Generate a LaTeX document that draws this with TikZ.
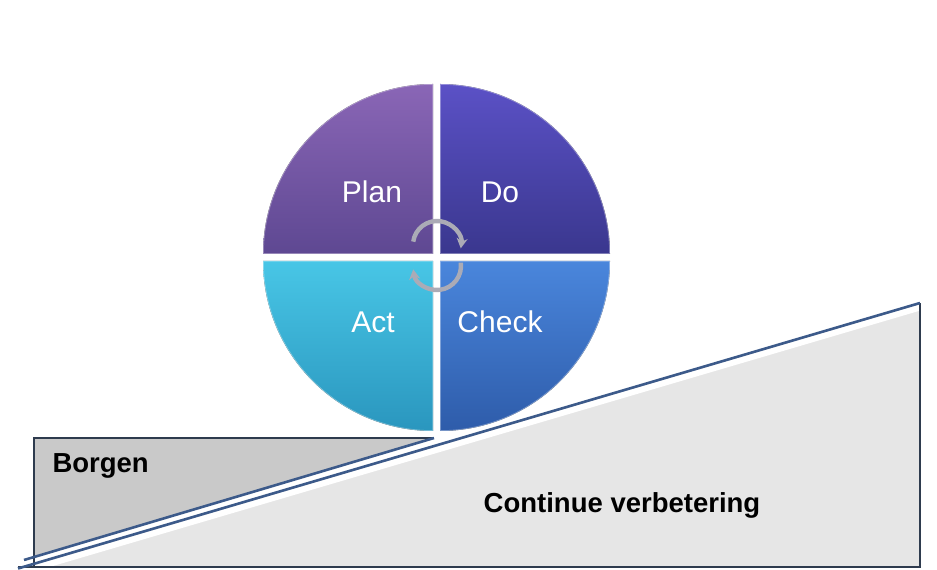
\documentclass[tikz,border=0pt]{standalone}
\usepackage{fontspec}
\setmainfont{Liberation Sans}
\usetikzlibrary{arrows.meta,positioning}

\definecolor{planTop}{HTML}{8A66B6}
\definecolor{planBot}{HTML}{5E4892}
\definecolor{doTop}{HTML}{5B51C6}
\definecolor{doBot}{HTML}{3A378E}
\definecolor{actTop}{HTML}{48C6E6}
\definecolor{actBot}{HTML}{2A96BE}
\definecolor{checkTop}{HTML}{4A86DC}
\definecolor{checkBot}{HTML}{2E5CAA}
\definecolor{frame}{HTML}{2E3B4E}
\definecolor{slope}{HTML}{3C5A8A}
\definecolor{paleFill}{HTML}{E6E6E6}
\definecolor{darkFill}{HTML}{C9C9C9}
\definecolor{silver}{HTML}{ABABB6}

\begin{document}
\begin{tikzpicture}[
        x=1pt, y=1pt,
        quarter/.style={draw=white, draw opacity=0.35, line width=1.5pt},
        phase/.style={text=white, font=\fontsize{30}{30}\selectfont},
        boxtext/.style={text=black, font=\bfseries\fontsize{27.5}{28}\selectfont},
        turn/.style={draw=silver, line width=4.4pt, -{Stealth[length=10pt,width=11pt]}},
        edge/.style={draw=frame, line width=2pt},
        rim/.style={draw=slope, line width=2.6pt}
    ]
  \useasboundingbox (0,0) rectangle (937,570);

  % Base shapes
  \fill[paleFill] (20,2) -- (920,267) -- (920,3) -- cycle;
  \fill[darkFill] (34,132) -- (434,132) -- (34,14) -- cycle;
  \draw[white, line width=6pt] (22,-2) -- (920,262.5);
  \draw[edge] (34,3) -- (34,132) -- (434,132);
  \draw[edge] (18,3) -- (920,3) -- (920,267);
  \draw[rim] (18,1.5) -- (920,267);
  \draw[rim] (24,10) -- (434,132);

  % Quarters
  \filldraw[quarter, top color=planTop, bottom color=planBot]
    (433,316) -- ++(-170,0) arc[start angle=180, end angle=90, radius=170] -- cycle;
  \filldraw[quarter, top color=doTop, bottom color=doBot]
    (440,316) -- ++(0,170) arc[start angle=90, end angle=0, radius=170] -- cycle;
  \filldraw[quarter, top color=actTop, bottom color=actBot]
    (433,309) -- ++(0,-170) arc[start angle=270, end angle=180, radius=170] -- cycle;
  \filldraw[quarter, top color=checkTop, bottom color=checkBot]
    (440,309) -- ++(170,0) arc[start angle=0, end angle=-90, radius=170] -- cycle;

  % Cycle arrows
  \coordinate (upper) at (437,325);
  \coordinate (lower) at (437,304);
  \draw[turn] ([shift={(172:24)}]upper) arc[start angle=172, end angle=-8, radius=24];
  \draw[turn] ([shift={(8:24)}]lower) arc[start angle=8, end angle=-172, radius=24];

  % Nodes
  \node[phase] (plan) at (372,378) {Plan};
  \node[phase] (do) at (500,378) {Do};
  \node[phase] (act) at (373,248) {Act};
  \node[phase] (check) at (500,248) {Check};
  \node[boxtext, anchor=west] (borgen) at (49,104) {Borgen};
  \node[boxtext] (verbetering) at (622,65) {Continue verbetering};
\end{tikzpicture}
\end{document}
